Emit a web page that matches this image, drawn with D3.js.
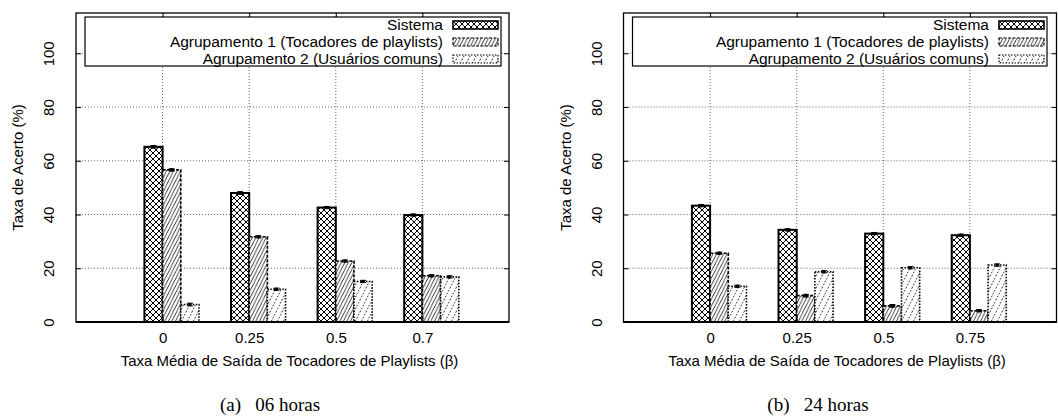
<!DOCTYPE html>
<html><head><meta charset="utf-8">
<script src="https://cdn.jsdelivr.net/npm/d3@7"></script>
<style>body{margin:0;background:#fff}svg{display:block}</style>
</head><body><svg id="c" width="1058" height="416"></svg>
<script>
const seriesNames = ["Sistema", "Agrupamento 1 (Tocadores de playlists)", "Agrupamento 2 (Usuários comuns)"];
const categoriesA = ["0", "0.25", "0.5", "0.7"];
const categoriesB = ["0", "0.25", "0.5", "0.75"];
const sistemaA = [65.2, 48.0, 42.6, 39.8];
const grupo1A = [56.6, 31.7, 22.7, 17.2];
const grupo2A = [6.5, 12.2, 15.1, 16.8];
const sistemaB = [43.3, 34.3, 32.9, 32.3];
const grupo1B = [25.6, 9.8, 6.0, 4.2];
const grupo2B = [13.3, 18.7, 20.2, 21.2];
const errSistemaA = [0.5, 0.5, 0.4, 0.4];
const errGrupo1A = [0.4, 0.4, 0.4, 0.4];
const errGrupo2A = [0.5, 0.4, 0.4, 0.4];
const errSistemaB = [0.4, 0.4, 0.4, 0.4];
const errGrupo1B = [0.4, 0.5, 0.5, 0.4];
const errGrupo2B = [0.4, 0.4, 0.4, 0.4];
const yTicks = [0, 20, 40, 60, 80, 100];
const xTitle = "Taxa Média de Saída de Tocadores de Playlists (β)";
const yTitle = "Taxa de Acerto (%)";
const captions = ["(a)\u2002 06 horas", "(b)\u2002 24 horas"];

const SANS = "'Liberation Sans', Arial, Helvetica, sans-serif";
const SERIF = "'Liberation Serif', 'Times New Roman', serif";
const svg = d3.select("#c");
const defs = svg.append("defs");
// patterns
const p0 = defs.append("pattern").attr("id","pat0").attr("patternUnits","userSpaceOnUse").attr("width",6).attr("height",6);
p0.append("rect").attr("width",6).attr("height",6).attr("fill","#fff");
p0.append("path").attr("d","M0,0L6,6M6,0L0,6M-1,5L1,7M5,-1L7,1M-1,1L1,-1M5,7L7,5").attr("stroke","#000").attr("stroke-width",1);
const p1 = defs.append("pattern").attr("id","pat1").attr("patternUnits","userSpaceOnUse").attr("width",3.5).attr("height",7);
p1.append("rect").attr("width",3.5).attr("height",7).attr("fill","#fff");
p1.append("path").attr("d","M0,7L3.5,0M-3.5,7L0,0M3.5,7L7,0").attr("stroke","#000").attr("stroke-width",0.8);
const p2 = defs.append("pattern").attr("id","pat2").attr("patternUnits","userSpaceOnUse").attr("width",6).attr("height",12);
p2.append("rect").attr("width",6).attr("height",12).attr("fill","#fff");
p2.append("path").attr("d","M0,12L6,0M-6,12L0,0M6,12L12,0").attr("stroke","#000").attr("stroke-width",0.8).attr("stroke-dasharray","1.6,1.6");

const styles = [
  {fill:"url(#pat0)", dash:null, sw:2},
  {fill:"url(#pat1)", dash:"3,1.5", sw:1.6},
  {fill:"url(#pat2)", dash:"1.5,1.5", sw:1.6}
];

const panels = [
  {cats:categoriesA, vals:[sistemaA, grupo1A, grupo2A], errs:[errSistemaA, errGrupo1A, errGrupo2A], x0:76, x1:509, legR:501, cap:captions[0], capX:270},
  {cats:categoriesB, vals:[sistemaB, grupo1B, grupo2B], errs:[errSistemaB, errGrupo1B, errGrupo2B], x0:623.5, x1:1056.5, legR:1047, cap:captions[1], capX:818}
];
const yTop = 13, yBot = 322;

panels.forEach(P => {
  const g = svg.append("g");
  const x = d3.scaleLinear().domain([0, P.cats.length + 1]).range([P.x0, P.x1]);
  const y = d3.scaleLinear().domain([0, 115]).range([yBot, yTop]);
  const bw = x(0.21) - x(0);
  // grid
  g.append("g").selectAll("line").data(yTicks.filter(d=>d>0)).join("line")
    .attr("x1",P.x0).attr("x2",P.x1).attr("y1",d=>y(d)).attr("y2",d=>y(d))
    .attr("stroke","#666").attr("stroke-width",1).attr("stroke-dasharray","1,2");
  g.append("g").selectAll("line").data(P.cats).join("line")
    .attr("x1",(d,i)=>x(i+1)).attr("x2",(d,i)=>x(i+1)).attr("y1",yTop).attr("y2",yBot)
    .attr("stroke","#666").attr("stroke-width",1).attr("stroke-dasharray","1,2");
  // bars
  P.vals.forEach((arr, s) => {
    const st = styles[s];
    g.append("g").selectAll("rect").data(arr).join("rect")
      .attr("x",(d,i)=>x(i+1) + (s-1)*bw)
      .attr("y",d=>y(d)).attr("width",bw).attr("height",d=>y(0)-y(d))
      .attr("fill",st.fill).attr("stroke","#000").attr("stroke-width",st.sw)
      .attr("stroke-dasharray",st.dash);
    const eg = g.append("g");
    arr.forEach((d,i) => {
      const cx = x(i+1) + (s-1)*bw + bw/2;
      const e = P.errs[s][i];
      eg.append("line").attr("x1",cx).attr("x2",cx).attr("y1",y(d-e)).attr("y2",y(d+e)).attr("stroke","#000").attr("stroke-width",1);
      eg.append("line").attr("x1",cx-3).attr("x2",cx+3).attr("y1",y(d+e)).attr("y2",y(d+e)).attr("stroke","#000").attr("stroke-width",1);
      eg.append("line").attr("x1",cx-3).attr("x2",cx+3).attr("y1",y(d-e)).attr("y2",y(d-e)).attr("stroke","#000").attr("stroke-width",1);
      eg.append("circle").attr("cx",cx).attr("cy",y(d)).attr("r",1.8).attr("fill","#000");
    });
  });
  // frame
  g.append("rect").attr("x",P.x0).attr("y",yTop).attr("width",P.x1-P.x0).attr("height",yBot-yTop)
    .attr("fill","none").attr("stroke","#000").attr("stroke-width",1.3);
  g.append("line").attr("x1",P.x0).attr("x2",P.x1).attr("y1",yBot).attr("y2",yBot).attr("stroke","#000").attr("stroke-width",2);
  // y axis
  const ya = d3.axisLeft(y).tickValues(yTicks).tickSizeInner(-5).tickSizeOuter(0).tickPadding(0);
  const yg = g.append("g").attr("transform",`translate(${P.x0},0)`).call(ya);
  yg.select(".domain").remove();
  yg.selectAll(".tick line").attr("stroke","#000");
  yg.selectAll(".tick text").attr("font-family",SANS).attr("font-size",15).attr("fill","#000")
    .attr("text-anchor","middle").attr("x",0).attr("y",0).attr("dy",0)
    .attr("transform","translate(-22,0) rotate(-90)");
  const yg2 = g.append("g").attr("transform",`translate(${P.x1},0)`)
    .call(d3.axisRight(y).tickValues(yTicks).tickSizeInner(-5).tickSizeOuter(0).tickFormat(""));
  yg2.select(".domain").remove();
  // x axis
  const xa = d3.axisBottom(x).tickValues(P.cats.map((d,i)=>i+1)).tickFormat(d=>P.cats[d-1]).tickSizeInner(-5).tickSizeOuter(0).tickPadding(10);
  const xg = g.append("g").attr("transform",`translate(0,${yBot})`).call(xa);
  xg.select(".domain").remove();
  xg.selectAll(".tick text").attr("font-family",SANS).attr("font-size",15).attr("fill","#000");
  const xg2 = g.append("g").attr("transform",`translate(0,${yTop})`)
    .call(d3.axisTop(x).tickValues(P.cats.map((d,i)=>i+1)).tickSizeInner(-5).tickSizeOuter(0).tickFormat(""));
  xg2.select(".domain").remove();
  // titles
  g.append("text").attr("x",(P.x0+P.x1)/2 - 3).attr("y",366).attr("text-anchor","middle")
    .attr("font-family",SANS).attr("font-size",15).text(xTitle);
  g.append("text").attr("transform",`translate(${P.x0-53},${(yTop+yBot)/2}) rotate(-90)`).attr("text-anchor","middle")
    .attr("font-family",SANS).attr("font-size",15).text(yTitle);
  g.append("text").attr("x",P.capX).attr("y",411).attr("text-anchor","middle")
    .style("white-space","pre")
    .attr("font-family",SERIF).attr("font-size",19).text(P.cap);
  // legend
  const lg = g.append("g");
  lg.append("rect").attr("x",P.x0+9).attr("y",17).attr("width",P.legR-(P.x0+9)).attr("height",49)
    .attr("fill","#fff").attr("stroke","#000").attr("stroke-width",1.2);
  seriesNames.forEach((n, s) => {
    const cy = 25 + s*17;
    lg.append("rect").attr("x",P.legR-48).attr("y",cy-4).attr("width",45).attr("height",8)
      .attr("fill",styles[s].fill).attr("stroke","#000").attr("stroke-width",s===0?1.6:1.2).attr("stroke-dasharray",styles[s].dash);
    lg.append("text").attr("x",P.legR-58).attr("y",cy+5).attr("text-anchor","end")
      .attr("font-family",SANS).attr("font-size",15.5).text(n);
  });
});
</script></body></html>
